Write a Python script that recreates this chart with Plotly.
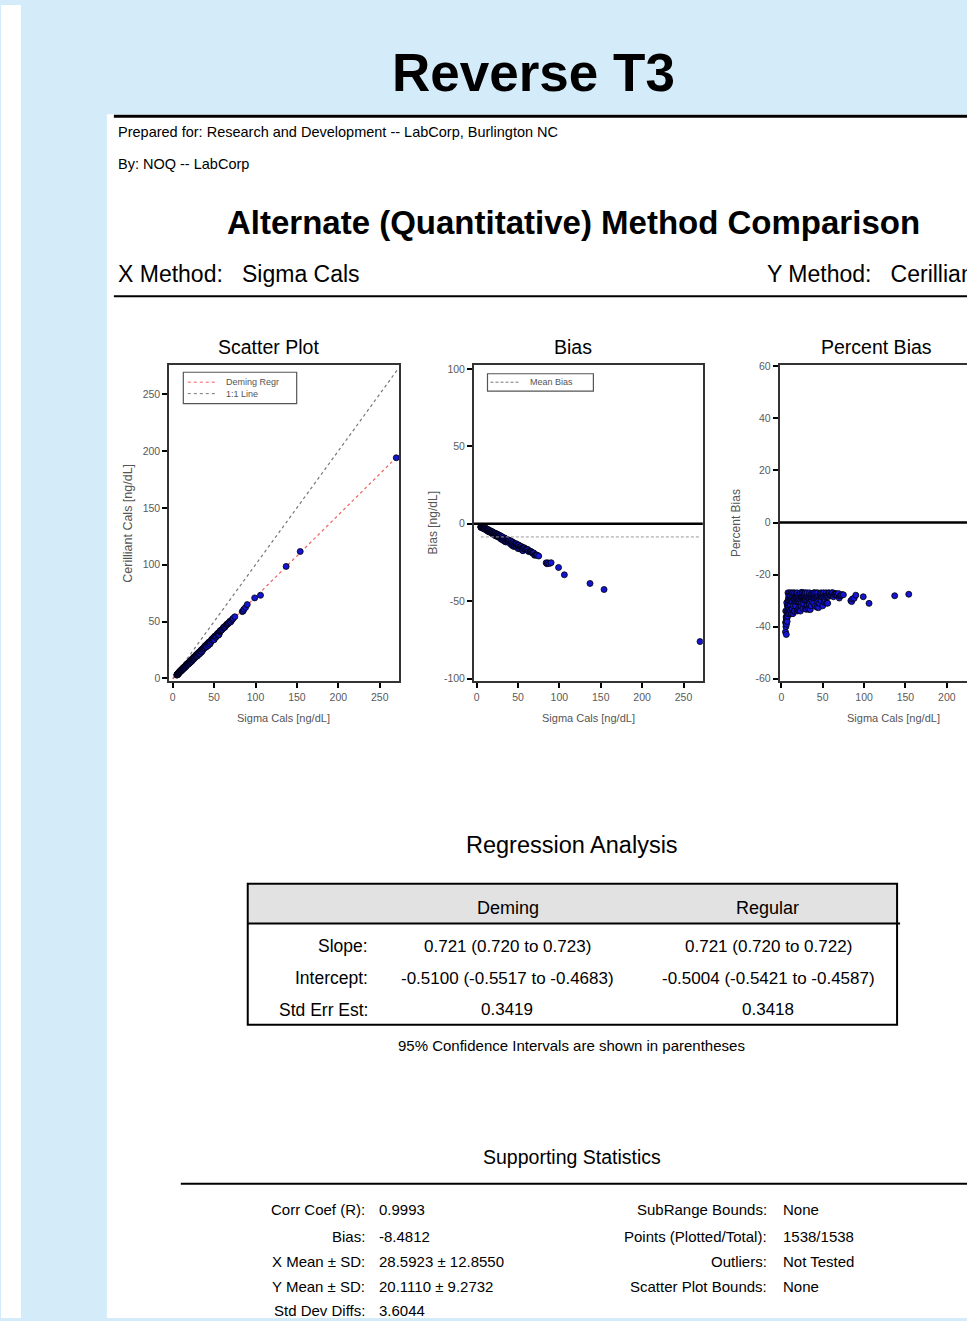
import plotly.graph_objects as go

# ---------------- data ----------------
x_sigma = [5.0, 5.2, 5.3, 5.5, 5.5, 5.8, 6.0, 6.0, 6.2, 6.3, 6.5, 6.8, 7.0, 7.0, 7.2, 7.5, 7.8, 8.0, 8.0, 8.0,
           8.3, 8.6, 9.0, 9.0, 9.0, 9.3, 9.6, 10.0, 10.0, 10.0, 10.0, 10.4, 10.8, 11.0, 11.0, 11.0, 11.5,
           12.0, 12.0, 12.0, 12.3, 12.7, 13.0, 13.0, 13.0, 13.5, 14.0, 14.0, 14.0, 14.4, 15.0, 15.0, 15.5,
           16.0, 16.0, 16.0, 16.5, 17.0, 17.0, 17.5, 18.0, 18.0, 18.5, 19.0, 19.0, 19.0, 19.5, 20.0, 20.0,
           20.5, 21.0, 21.0, 21.0, 21.5, 22.0, 22.0, 22.5, 23.0, 23.0, 23.0, 23.5, 24.0, 24.0, 24.5, 25.0,
           25.0, 25.5, 26.0, 26.0, 26.0, 26.5, 27.0, 27.0, 27.5, 28.0, 28.0, 28.5, 29.0, 29.0, 29.0, 29.5,
           30.0, 30.0, 31.0, 31.0, 31.0, 32.0, 32.0, 33.0, 33.0, 34.0, 34.0, 34.0, 35.0, 35.0, 36.0, 36.0,
           36.0, 37.0, 37.0, 38.0, 38.0, 39.0, 39.0, 39.0, 40.0, 40.0, 41.0, 41.0, 42.0, 42.0, 43.0, 43.0,
           44.0, 44.0, 44.0, 45.0, 45.0, 46.0, 46.0, 47.0, 47.0, 48.0, 48.0, 48.0, 49.0, 50.0, 50.0, 50.0,
           51.0, 51.0, 52.0, 52.0, 53.0, 53.0, 54.0, 54.0, 55.0, 55.0, 56.0, 56.0, 57.0, 57.0, 58.0, 58.0,
           59.0, 60.0, 61.0, 62.0, 62.0, 63.0, 64.0, 65.0, 66.0, 66.0, 67.0, 68.0, 69.0, 70.0, 71.0, 72.0,
           73.0, 75.0, 84.0, 85.0, 86.0, 88.0, 90.0, 99.0, 106.0, 137.0, 154.0, 270.0]
y_cerilliant = [2.9, 3.2, 3.5, 3.4, 3.3, 3.7, 3.42, 3.78, 3.78, 4.0, 4.5, 4.3, 4.6, 4.34, 4.9, 4.8, 5.3, 5.6,
                5.2, 5.84, 5.6, 6.1, 6.2, 5.94, 6.48, 6.5, 6.4, 7.0, 6.5, 6.7, 7.3, 7.1, 7.7, 7.5, 7.26, 7.92,
                8.1, 8.4, 7.8, 8.76, 8.2, 9.0, 9.1, 8.71, 9.43, 9.4, 10.0, 9.1, 10.22, 9.8, 10.6, 9.9, 10.9,
                11.3, 10.56, 11.68, 11.4, 12.1, 11.56, 12.2, 12.8, 13.1, 12.9, 13.5, 12.54, 13.87, 13.6, 14.3,
                13.3, 14.3, 14.9, 14.07, 15.2, 15.1, 15.8, 14.6, 15.6, 16.4, 15.18, 16.79, 16.5, 17.1, 16.32,
                17.0, 17.8, 18.3, 18.0, 18.6, 17.42, 18.98, 18.6, 19.3, 18.6, 19.3, 20.0, 20.4, 20.1, 20.6,
                19.43, 21.17, 20.8, 21.4, 20.0, 22.0, 21.08, 22.63, 22.8, 21.44, 23.5, 22.0, 24.1, 23.29, 24.82,
                25.0, 23.3, 25.5, 24.48, 26.1, 26.4, 25.9, 27.0, 27.6, 27.8, 26.91, 28.47, 28.4, 29.2, 29.3,
                27.88, 29.8, 30.66, 30.7, 29.0, 31.2, 30.58, 32.12, 32.2, 30.3, 32.6, 31.74, 33.6, 34.2, 34.1,
                33.6, 35.04, 35.0, 35.6, 36.4, 34.0, 36.5, 37.23, 37.0, 36.1, 38.2, 37.1, 38.6, 39.42, 39.5,
                38.0, 40.4, 38.64, 40.8, 41.61, 41.9, 42.3, 42.48, 43.3, 44.53, 44.6, 45.3, 45.05, 46.3, 47.3,
                47.9, 47.85, 48.3, 48.96, 50.2, 49.7, 51.0, 51.84, 52.8, 54.2, 58.8, 59.2, 60.8, 62.4, 64.9,
                70.8, 73.1, 98.5, 111.6, 194.0]

deming_slope = 0.721
deming_intercept = -0.5100
mean_bias = -8.4812

scatter_ticks = [0, 50, 100, 150, 200, 250]
scatter_ticktext = ["0", "50", "100", "150", "200", "250"]
bias_yticks = [-100, -50, 0, 50, 100]
bias_yticktext = ["-100", "-50", "0", "50", "100"]
pct_xticks = [0, 50, 100, 150, 200]
pct_xticktext = ["0", "50", "100", "150", "200"]
pct_yticks = [-60, -40, -20, 0, 20, 40, 60]
pct_yticktext = ["-60", "-40", "-20", "0", "20", "40", "60"]

table_cols = ["Deming", "Regular"]
table_rows = ["Slope:", "Intercept:", "Std Err Est:"]
table_deming = ["0.721 (0.720 to 0.723)", "-0.5100 (-0.5517 to -0.4683)", "0.3419"]
table_regular = ["0.721 (0.720 to 0.722)", "-0.5004 (-0.5421 to -0.4587)", "0.3418"]

stats_left_labels = ["Corr Coef (R):", "Bias:", "X Mean \u00b1 SD:", "Y Mean \u00b1 SD:", "Std Dev Diffs:"]
stats_left_values = ["0.9993", "-8.4812", "28.5923 \u00b1 12.8550", "20.1110 \u00b1 9.2732", "3.6044"]
stats_right_labels = ["SubRange Bounds:", "Points (Plotted/Total):", "Outliers:", "Scatter Plot Bounds:"]
stats_right_values = ["None", "1538/1538", "Not Tested", "None"]

# ---------------- derived ----------------
bias_vals = [yv - xv for xv, yv in zip(x_sigma, y_cerilliant)]
pct_vals = [100.0 * (yv - xv) / xv for xv, yv in zip(x_sigma, y_cerilliant)]
line_x = [0, 272]
deming_x = [0, max(x_sigma)]
deming_y = [deming_slope * v + deming_intercept for v in deming_x]

W, H = 967, 1321
FONT = "Liberation Sans, Arial, sans-serif"
BLUE_BG = "#D4ECFA"
GRAY_TXT = "#555555"


def px(x):
    return x / W


def py(y):
    return 1 - y / H


fig = go.Figure()

marker = dict(color="#1414D2", size=6, line=dict(color="#000000", width=0.8))

fig.add_trace(go.Scatter(x=line_x, y=line_x, mode="lines", line=dict(color="#777777", width=1.2, dash="dot"),
                         xaxis="x", yaxis="y", showlegend=False, hoverinfo="skip"))
fig.add_trace(go.Scatter(x=deming_x, y=deming_y, mode="lines",
                         line=dict(color="#F06060", width=1.2, dash="dot"),
                         xaxis="x", yaxis="y", showlegend=False, hoverinfo="skip"))
fig.add_trace(go.Scatter(x=x_sigma, y=y_cerilliant, mode="markers", marker=marker,
                         xaxis="x", yaxis="y", showlegend=False))
fig.add_trace(go.Scatter(x=x_sigma, y=bias_vals, mode="markers", marker=marker,
                         xaxis="x2", yaxis="y2", showlegend=False))
fig.add_trace(go.Scatter(x=x_sigma, y=pct_vals, mode="markers", marker=marker,
                         xaxis="x3", yaxis="y3", showlegend=False))

axis_common = dict(showgrid=False, zeroline=False, showline=True, linecolor="#333333", linewidth=2,
                   ticks="outside", ticklen=5, tickwidth=2, tickcolor="#000000",
                   tickfont=dict(family=FONT, size=10.5, color="#5a5a5a"), fixedrange=True)

layout = dict(
    width=W, height=H, margin=dict(l=0, r=0, t=0, b=0),
    paper_bgcolor=BLUE_BG, plot_bgcolor="white", showlegend=False,
    xaxis=dict(domain=[px(168.5), px(398.5)], range=[-4.1, 273.4], anchor="y", mirror=True,
               tickmode="array", tickvals=scatter_ticks, ticktext=scatter_ticktext, **axis_common),
    yaxis=dict(domain=[py(680.5), py(362.5)], range=[-2.6, 275.3], anchor="x", mirror=True,
               tickmode="array", tickvals=scatter_ticks, ticktext=scatter_ticktext, **axis_common),
    xaxis2=dict(domain=[px(473.5), px(702.5)], range=[-3.2, 273.3], anchor="y2", mirror=True,
                tickmode="array", tickvals=scatter_ticks, ticktext=scatter_ticktext, **axis_common),
    yaxis2=dict(domain=[py(680.5), py(362.5)], range=[-101.7, 102.3], anchor="x2", mirror=True,
                tickmode="array", tickvals=bias_yticks, ticktext=bias_yticktext, **axis_common),
    xaxis3=dict(domain=[px(779.5), 1.0], range=[-2.0, 224.4], anchor="y3", mirror=True,
                tickmode="array", tickvals=pct_xticks, ticktext=pct_xticktext, **axis_common),
    yaxis3=dict(domain=[py(680.5), py(362.5)], range=[-61.0, 60.4], anchor="x3", mirror=False,
                tickmode="array", tickvals=pct_yticks, ticktext=pct_yticktext, **axis_common),
)
fig.update_layout(**layout)

shapes = []
shapes.append(dict(type="rect", xref="paper", yref="paper", x0=0, x1=px(20), y0=0, y1=1,
                   fillcolor="white", line=dict(width=0), layer="below"))
shapes.append(dict(type="rect", xref="paper", yref="paper", x0=px(106), x1=1, y0=0, y1=py(110),
                   fillcolor="white", line=dict(width=0), layer="below"))
shapes.append(dict(type="line", xref="paper", yref="paper", x0=px(113), x1=1, y0=py(112), y1=py(112),
                   line=dict(color="black", width=3)))
shapes.append(dict(type="line", xref="paper", yref="paper", x0=px(113), x1=1, y0=py(293), y1=py(293),
                   line=dict(color="black", width=2)))
shapes.append(dict(type="line", xref="x2 domain", yref="y2", x0=0, x1=1, y0=0, y1=0,
                   line=dict(color="black", width=2.5)))
shapes.append(dict(type="line", xref="x2 domain", yref="y2", x0=0.03, x1=0.99, y0=mean_bias, y1=mean_bias,
                   line=dict(color="#999999", width=1, dash="3px,2px")))
shapes.append(dict(type="line", xref="x3 domain", yref="y3", x0=0, x1=1, y0=0, y1=0,
                   line=dict(color="black", width=2.5)))
# legend boxes
shapes.append(dict(type="rect", xref="paper", yref="paper", x0=px(182.5), x1=px(296), y0=py(401), y1=py(369.5),
                   line=dict(color="#555555", width=1.2), fillcolor="white"))
shapes.append(dict(type="line", xref="paper", yref="paper", x0=px(187), x1=px(215), y0=py(379.5), y1=py(379.5),
                   line=dict(color="#F06060", width=1, dash="dot")))
shapes.append(dict(type="line", xref="paper", yref="paper", x0=px(187), x1=px(215), y0=py(391), y1=py(391),
                   line=dict(color="#777777", width=1, dash="dot")))
shapes.append(dict(type="rect", xref="paper", yref="paper", x0=px(487), x1=px(593), y0=py(388.5), y1=py(371),
                   line=dict(color="#555555", width=1.2), fillcolor="white"))
shapes.append(dict(type="line", xref="paper", yref="paper", x0=px(490), x1=px(520), y0=py(379.5), y1=py(379.5),
                   line=dict(color="#777777", width=1, dash="3px,2px")))
# regression table
shapes.append(dict(type="rect", xref="paper", yref="paper", x0=px(248), x1=px(897), y0=py(924), y1=py(885),
                   fillcolor="#E2E2E2", line=dict(width=0), layer="below"))
shapes.append(dict(type="rect", xref="paper", yref="paper", x0=px(247), x1=px(897), y0=py(1026), y1=py(884),
                   line=dict(color="black", width=2)))
shapes.append(dict(type="line", xref="paper", yref="paper", x0=px(247), x1=px(900), y0=py(924), y1=py(924),
                   line=dict(color="black", width=2)))
shapes.append(dict(type="line", xref="paper", yref="paper", x0=px(180), x1=1, y0=py(1186), y1=py(1186),
                   line=dict(color="black", width=2)))

ann = []


def text(x, y, s, size, color="black", xanchor="center", bold=False, angle=0):
    if bold:
        s = "<b>" + s + "</b>"
    ann.append(dict(xref="paper", yref="paper", x=px(x), y=py(y), text=s, showarrow=False,
                    xanchor=xanchor, yanchor="middle", textangle=angle,
                    font=dict(family=FONT, size=size, color=color)))


text(533, 68, "Reverse T3", 53, bold=True)
text(115, 128, "Prepared for: Research and Development -- LabCorp, Burlington NC", 14.5, xanchor="left")
text(115, 160, "By: NOQ -- LabCorp", 14.5, xanchor="left")
text(573, 219, "Alternate (Quantitative) Method Comparison", 33, bold=True)
text(115, 271, "X Method:   Sigma Cals", 23, xanchor="left")
text(765, 271, "Y Method:   Cerilliant Cals", 23, xanchor="left")

text(268, 344, "Scatter Plot", 19.5)
text(573, 344, "Bias", 19.5)
text(876, 344, "Percent Bias", 19.5)

text(283, 717, "Sigma Cals [ng/dL]", 11, color=GRAY_TXT)
text(588, 717, "Sigma Cals [ng/dL]", 11, color=GRAY_TXT)
text(893, 717, "Sigma Cals [ng/dL]", 11, color=GRAY_TXT)
text(127, 521, "Cerilliant Cals [ng/dL]", 12.5, color=GRAY_TXT, angle=-90)
text(432, 521, "Bias [ng/dL]", 12, color=GRAY_TXT, angle=-90)
text(736, 521, "Percent Bias", 12, color=GRAY_TXT, angle=-90)

text(223, 379.5, "Deming Regr", 9, color=GRAY_TXT, xanchor="left")
text(223, 391, "1:1 Line", 9, color=GRAY_TXT, xanchor="left")
text(528, 379.5, "Mean Bias", 9, color=GRAY_TXT, xanchor="left")

text(572, 845, "Regression Analysis", 23.5)
text(508, 909, table_cols[0], 18)
text(767, 909, table_cols[1], 18)
row_y = [947, 979, 1011]
for i, ry in enumerate(row_y):
    text(369, ry, table_rows[i], 17.5, xanchor="right")
    text(507, ry, table_deming[i], 17)
    text(768, ry, table_regular[i], 17)
text(571, 1047, "95% Confidence Intervals are shown in parentheses", 15)

text(572, 1159, "Supporting Statistics", 19.5)
stat_y = [1212, 1239, 1264, 1289, 1313]
for i, lab in enumerate(stats_left_labels):
    text(366, stat_y[i], lab, 15, xanchor="right")
    text(376, stat_y[i], stats_left_values[i], 15, xanchor="left")
for i, lab in enumerate(stats_right_labels):
    text(769, stat_y[i], lab, 15, xanchor="right")
    text(781, stat_y[i], stats_right_values[i], 15, xanchor="left")

fig.update_layout(shapes=shapes, annotations=ann)
fig.write_html("out.html", config={"displayModeBar": False},
               post_script="document.body.style.margin='0';")
